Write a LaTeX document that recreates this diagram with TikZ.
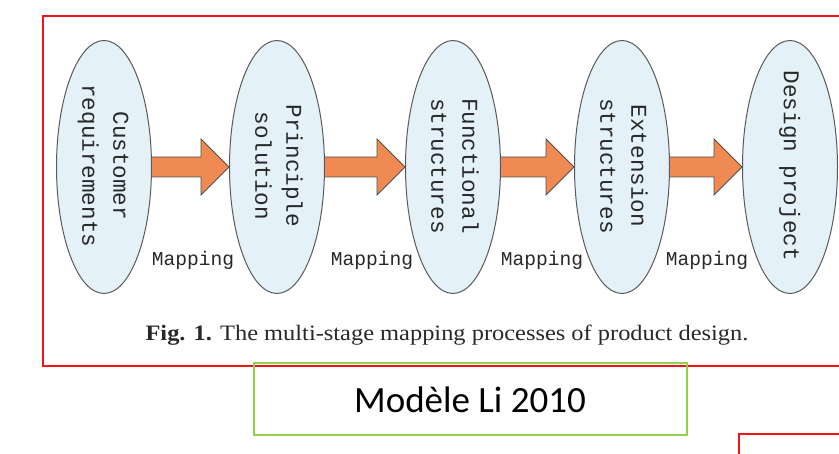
\documentclass[tikz,border=0pt]{standalone}
\usepackage{fontspec}
\setmainfont{Liberation Serif}
\newfontfamily\monofam{Liberation Mono}
\newfontfamily\calib{Carlito}
\usetikzlibrary{shapes.geometric,calc,backgrounds}
\definecolor{ellfill}{RGB}{228,241,249}
\definecolor{ellline}{RGB}{90,90,90}
\definecolor{arrfill}{RGB}{238,138,82}
\definecolor{arrline}{RGB}{80,80,80}
\definecolor{boxred}{RGB}{240,20,20}
\definecolor{boxgreen}{RGB}{146,208,80}
\definecolor{txtgray}{RGB}{40,40,40}
\tikzset{
  stage/.style={ellipse, draw=ellline, line width=1pt, fill=ellfill,
    minimum width=95pt, minimum height=253pt, inner sep=0pt, text=txtgray,
    font=\monofam\fontsize{22.6}{31}\selectfont},
  maplabel/.style={font=\monofam\fontsize{19.6}{22}\selectfont, text=txtgray, inner sep=0pt},
  bigarrow/.style={draw=arrline, line width=0.8pt, fill=arrfill, line join=miter},
  redframe/.style={draw=boxred, line width=1.4pt},
  greenframe/.style={draw=boxgreen, line width=1.3pt}
}
\newcommand{\vtext}[1]{\smash{\makebox[0pt]{\raisebox{0pt}[0pt][0pt]{\rotatebox[origin=c]{-90}{\begin{tabular}{@{}c@{}}#1\end{tabular}}}}}}
\newcommand{\bigarr}[2]{%
  \draw[bigarrow] let \p1=(#1.east), \p2=(#2.west) in
    (\x1-3pt,\y1+10pt) -- (\x2-28pt,\y1+10pt) -- (\x2-28pt,\y1+28pt) --
    (\x2,\y1) -- (\x2-28pt,\y1-28pt) -- (\x2-28pt,\y1-10pt) -- (\x1-3pt,\y1-10pt) -- cycle;}
\begin{document}
\begin{tikzpicture}[x=1pt,y=-1pt]
\useasboundingbox (0,0) rectangle (839,454);
% frames
\draw[redframe] (850,16) -- (43,16) -- (43,366) -- (850,366);
\draw[redframe] (850,434) -- (739,434) -- (739,460);
% stages
\node[stage] (e1) at (104,167) {};
\node[stage] (e2) at (277,167) {};
\node[stage] (e3) at (453,167) {};
\node[stage] (e4) at (622,167) {};
\node[stage] (e5) at (790,167) {};
\node[inner sep=0pt, text=txtgray, font=\monofam\fontsize{22.6}{31}\selectfont] (t1) at ($(e1.center)+(0,4)$) {\vtext{Customer\\requirements}};
\node[inner sep=0pt, text=txtgray, font=\monofam\fontsize{22.6}{31}\selectfont] (t2) at ($(e2.center)+(0,4)$) {\vtext{Principle\\solution}};
\node[inner sep=0pt, text=txtgray, font=\monofam\fontsize{22.6}{31}\selectfont] (t3) at ($(e3.center)+(0,4)$) {\vtext{Functional\\structures}};
\node[inner sep=0pt, text=txtgray, font=\monofam\fontsize{22.6}{31}\selectfont] (t4) at ($(e4.center)+(0,4)$) {\vtext{Extension\\structures}};
\node[inner sep=0pt, text=txtgray, font=\monofam\fontsize{22.6}{31}\selectfont] (t5) at ($(e5.center)+(0,4)$) {\vtext{Design project}};
% arrows
\begin{scope}[on background layer]
\bigarr{e1}{e2}
\bigarr{e2}{e3}
\bigarr{e3}{e4}
\bigarr{e4}{e5}
\end{scope}
% labels
\node[maplabel] (m1) at (193,260) {Mapping};
\node[maplabel] (m2) at (372,260) {Mapping};
\node[maplabel] (m3) at (542,260) {Mapping};
\node[maplabel] (m4) at (707,260) {Mapping};
% caption
\node[inner sep=0pt, text=txtgray, xscale=1.11, font=\fontsize{22}{24}\selectfont] (cap) at (447,335)
  {\textbf{Fig. 1.} The multi-stage mapping processes of product design.};
% green box
\draw[greenframe] (254,363) rectangle (687,435);
\node[inner sep=0pt, font=\calib\fontsize{37}{40}\selectfont] (title) at (470,400) {Modèle Li 2010};
\end{tikzpicture}
\end{document}
